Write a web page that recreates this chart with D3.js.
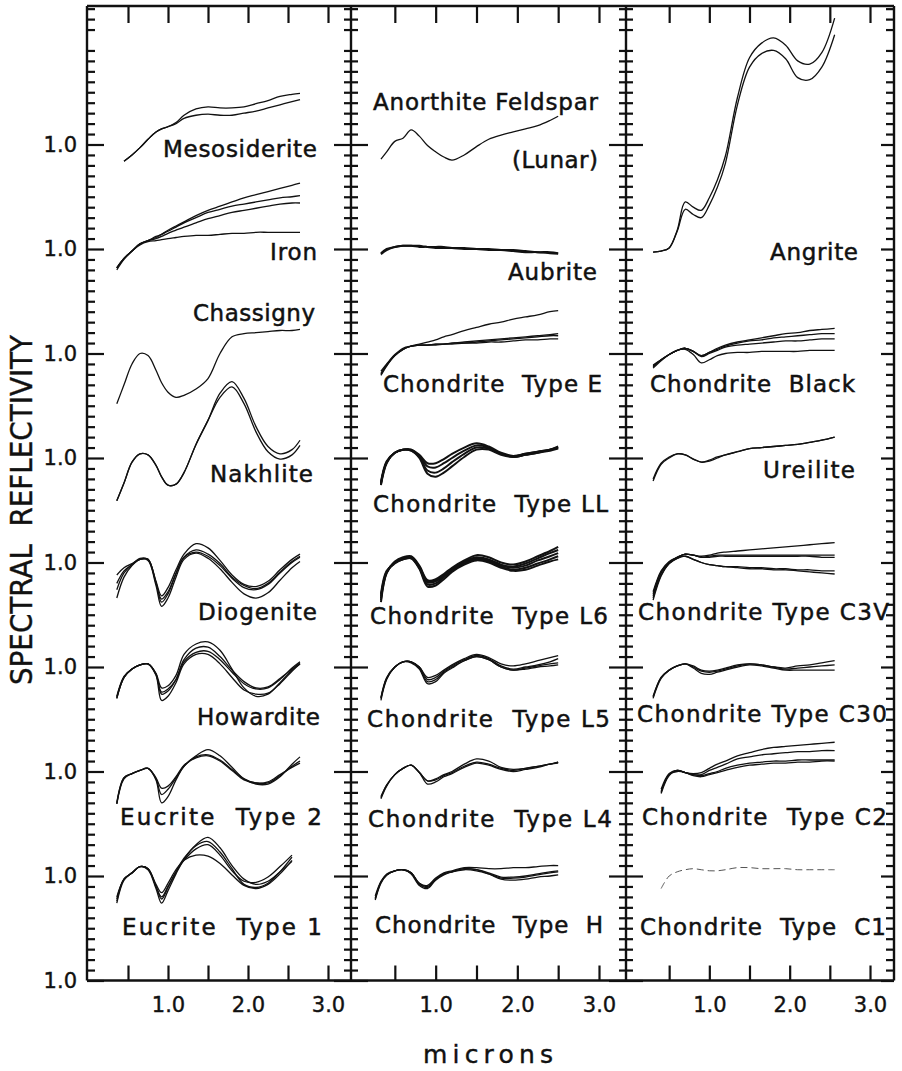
<!DOCTYPE html>
<html>
<head>
<meta charset="utf-8">
<script src="https://cdn.jsdelivr.net/npm/d3@7"></script>
<style>
  body { margin: 0; background: #fff; }
  svg { display: block; font-family: 'DejaVu Sans', sans-serif; }
  text { white-space: pre; fill: #111; }
</style>
</head>
<body>
<svg id="chart"></svg>
<script>
// wavelength grid (microns) for each column
const leftMicrons = [0.36, 0.45, 0.55, 0.65, 0.75, 0.85, 0.92, 1.0, 1.1, 1.2, 1.35, 1.5, 1.65, 1.8, 1.95, 2.1, 2.25, 2.4, 2.55, 2.65]
const middleMicrons = [0.26, 0.33, 0.4, 0.5, 0.6, 0.7, 0.8, 0.9, 1.0, 1.1, 1.2, 1.35, 1.5, 1.65, 1.8, 1.95, 2.1, 2.25, 2.4, 2.5]
const rightMicrons = [0.3, 0.4, 0.5, 0.6, 0.7, 0.8, 0.9, 1.0, 1.1, 1.2, 1.35, 1.5, 1.65, 1.8, 1.95, 2.1, 2.25, 2.4, 2.56]

// labels, top to bottom
const leftNames = ['Mesosiderite', 'Iron', 'Chassigny', 'Nakhlite', 'Diogenite', 'Howardite', 'Eucrite  Type 2', 'Eucrite  Type 1']
const middleNames = ['Anorthite Feldspar', '(Lunar)', 'Aubrite', 'Chondrite  Type E', 'Chondrite  Type LL', 'Chondrite  Type L6', 'Chondrite  Type L5', 'Chondrite  Type L4', 'Chondrite  Type  H']
const rightNames = ['Angrite', 'Chondrite  Black', 'Ureilite', 'Chondrite Type C3V', 'Chondrite Type C30', 'Chondrite  Type C2', 'Chondrite  Type  C1']

// relative reflectance (1.0 at 0.56 um), one list of traces per row
const leftSpectra = [
  [ // Mesosiderite
    [null, 0.84, 0.90, 0.97, 1.05, 1.12, 1.15, 1.17, 1.21, 1.28, 1.34, 1.36, 1.35, 1.35, 1.36, 1.39, 1.42, 1.46, 1.48, 1.49],
    [null, 0.84, 0.90, 0.97, 1.05, 1.12, 1.15, 1.17, 1.20, 1.25, 1.28, 1.29, 1.28, 1.28, 1.30, 1.32, 1.35, 1.38, 1.41, 1.43]
  ],
  [ // Iron
    [0.82, 0.91, 0.98, 1.05, 1.08, 1.12, 1.14, 1.18, 1.22, 1.26, 1.32, 1.37, 1.41, 1.45, 1.49, 1.52, 1.55, 1.58, 1.61, 1.63],
    [0.82, 0.91, 0.98, 1.05, 1.08, 1.11, 1.14, 1.17, 1.21, 1.25, 1.30, 1.35, 1.38, 1.41, 1.43, 1.45, 1.47, 1.49, 1.50, 1.51],
    [0.82, 0.91, 0.98, 1.05, 1.08, 1.10, 1.12, 1.15, 1.18, 1.21, 1.25, 1.29, 1.32, 1.35, 1.37, 1.39, 1.41, 1.43, 1.44, 1.44],
    [0.80, 0.90, 0.98, 1.04, 1.07, 1.08, 1.09, 1.10, 1.11, 1.12, 1.13, 1.13, 1.14, 1.15, 1.15, 1.16, 1.16, 1.16, 1.16, 1.16]
  ],
  [ // Chassigny
    [0.52, 0.70, 0.90, 1.00, 0.98, 0.84, 0.72, 0.63, 0.58, 0.60, 0.66, 0.76, 1.00, 1.16, 1.19, 1.20, 1.21, 1.22, 1.22, 1.23]
  ],
  [ // Nakhlite
    [0.59, 0.76, 0.96, 1.04, 1.03, 0.93, 0.82, 0.74, 0.75, 0.86, 1.13, 1.36, 1.62, 1.73, 1.57, 1.30, 1.11, 1.04, 1.08, 1.17],
    [0.59, 0.76, 0.96, 1.04, 1.03, 0.93, 0.82, 0.74, 0.75, 0.86, 1.13, 1.36, 1.58, 1.68, 1.52, 1.25, 1.06, 0.99, 1.03, 1.12]
  ],
  [ // Diogenite
    [0.66, 0.86, 0.97, 1.03, 1.03, 0.80, 0.65, 0.72, 0.90, 1.05, 1.10, 1.06, 0.97, 0.85, 0.76, 0.74, 0.79, 0.90, 1.00, 1.05],
    [0.80, 0.92, 0.98, 1.03, 1.02, 0.78, 0.58, 0.66, 0.86, 1.03, 1.09, 1.04, 0.94, 0.81, 0.70, 0.66, 0.71, 0.83, 0.95, 1.01],
    [0.74, 0.90, 0.98, 1.04, 1.03, 0.82, 0.68, 0.76, 0.93, 1.08, 1.18, 1.14, 1.02, 0.88, 0.79, 0.77, 0.82, 0.93, 1.03, 1.08],
    [0.88, 0.95, 0.99, 1.03, 1.03, 0.81, 0.62, 0.70, 0.89, 1.05, 1.12, 1.08, 0.99, 0.86, 0.78, 0.75, 0.80, 0.91, 1.01, 1.06]
  ],
  [ // Howardite
    [0.70, 0.90, 0.98, 1.02, 1.03, 0.93, 0.76, 0.79, 0.88, 1.05, 1.14, 1.15, 1.07, 0.95, 0.84, 0.79, 0.80, 0.88, 0.99, 1.05],
    [0.72, 0.91, 0.98, 1.02, 1.03, 0.92, 0.68, 0.72, 0.85, 1.03, 1.12, 1.12, 1.03, 0.90, 0.78, 0.74, 0.75, 0.84, 0.96, 1.03],
    [0.70, 0.90, 0.98, 1.02, 1.03, 0.94, 0.80, 0.82, 0.92, 1.12, 1.22, 1.24, 1.16, 0.98, 0.80, 0.72, 0.74, 0.85, 0.97, 1.03],
    [0.71, 0.90, 0.98, 1.02, 1.03, 0.93, 0.74, 0.77, 0.88, 1.07, 1.18, 1.19, 1.10, 0.97, 0.86, 0.80, 0.81, 0.89, 0.98, 1.04]
  ],
  [ // Eucrite Type 2
    [0.69, 0.94, 0.98, 1.01, 1.03, 0.93, 0.78, 0.83, 0.94, 1.05, 1.14, 1.16, 1.11, 1.02, 0.93, 0.89, 0.89, 0.96, 1.05, 1.10],
    [0.69, 0.93, 0.98, 1.01, 1.03, 0.92, 0.70, 0.76, 0.92, 1.05, 1.15, 1.21, 1.15, 1.04, 0.93, 0.88, 0.88, 0.95, 1.07, 1.14],
    [0.70, 0.94, 0.98, 1.01, 1.03, 0.94, 0.84, 0.86, 0.95, 1.06, 1.13, 1.15, 1.10, 1.01, 0.92, 0.89, 0.90, 0.97, 1.04, 1.08]
  ],
  [ // Eucrite Type 1
    [0.78, 0.97, 1.03, 1.09, 1.07, 0.90, 0.80, 0.90, 1.04, 1.15, 1.26, 1.30, 1.20, 1.05, 0.95, 0.94, 0.99, 1.09, 1.20, null],
    [0.74, 0.96, 1.03, 1.09, 1.06, 0.88, 0.74, 0.86, 1.02, 1.16, 1.30, 1.37, 1.27, 1.10, 0.97, 0.92, 0.95, 1.04, 1.14, null],
    [0.80, 0.97, 1.03, 1.09, 1.07, 0.92, 0.84, 0.93, 1.06, 1.15, 1.20, 1.19, 1.12, 1.01, 0.91, 0.88, 0.92, 1.02, 1.15, null],
    [0.76, 0.97, 1.03, 1.09, 1.07, 0.90, 0.78, 0.89, 1.04, 1.17, 1.29, 1.33, 1.23, 1.07, 0.92, 0.89, 0.93, 1.04, 1.18, null]
  ]
]

const middleSpectra = [
  [ // Anorthite Feldspar (Lunar)
    [null, 0.86, 0.93, 1.03, 1.06, 1.14, 1.08, 0.99, 0.93, 0.88, 0.85, 0.90, 0.98, 1.05, 1.09, 1.12, 1.15, 1.18, 1.23, 1.27]
  ],
  [ // Aubrite
    [null, 0.96, 1.00, 1.02, 1.03, 1.03, 1.03, 1.02, 1.02, 1.02, 1.01, 1.01, 1.00, 1.00, 0.99, 0.99, 0.98, 0.97, 0.97, 0.96],
    [null, 0.95, 0.99, 1.02, 1.03, 1.03, 1.02, 1.02, 1.01, 1.01, 1.01, 1.00, 1.00, 0.99, 0.99, 0.98, 0.97, 0.97, 0.96, 0.955]
  ],
  [ // Chondrite Type E
    [null, 0.81, 0.89, 0.98, 1.04, 1.07, 1.09, 1.11, 1.13, 1.16, 1.18, 1.22, 1.25, 1.28, 1.30, 1.33, 1.35, 1.37, 1.40, 1.41],
    [null, 0.79, 0.88, 0.98, 1.04, 1.07, 1.08, 1.08, 1.09, 1.09, 1.10, 1.10, 1.11, 1.12, 1.13, 1.14, 1.15, 1.16, 1.17, 1.17],
    [null, 0.83, 0.90, 0.99, 1.05, 1.07, 1.08, 1.08, 1.08, 1.09, 1.09, 1.10, 1.10, 1.11, 1.11, 1.12, 1.13, 1.13, 1.14, 1.14],
    [null, 0.80, 0.89, 0.98, 1.04, 1.07, 1.08, 1.08, 1.09, 1.09, 1.10, 1.11, 1.12, 1.13, 1.14, 1.15, 1.16, 1.17, 1.18, 1.19]
  ],
  [ // Chondrite Type LL
    [null, 0.76, 0.96, 1.05, 1.08, 1.08, 1.03, 0.95, 0.95, 0.99, 1.04, 1.10, 1.14, 1.11, 1.05, 1.02, 1.04, 1.06, 1.08, 1.10],
    [null, 0.77, 0.97, 1.05, 1.08, 1.08, 1.02, 0.92, 0.91, 0.95, 1.00, 1.07, 1.12, 1.10, 1.04, 1.02, 1.04, 1.06, 1.08, 1.11],
    [null, 0.75, 0.96, 1.05, 1.08, 1.07, 1.01, 0.88, 0.86, 0.90, 0.96, 1.04, 1.10, 1.09, 1.04, 1.01, 1.03, 1.05, 1.07, 1.09],
    [null, 0.74, 0.95, 1.05, 1.08, 1.07, 1.00, 0.85, 0.82, 0.86, 0.92, 1.01, 1.08, 1.08, 1.03, 1.01, 1.03, 1.05, 1.08, 1.10]
  ],
  [ // Chondrite Type L6
    [null, 0.62, 0.90, 1.01, 1.05, 1.06, 0.97, 0.83, 0.84, 0.89, 0.95, 1.02, 1.07, 1.05, 1.00, 0.98, 1.01, 1.06, 1.11, 1.15],
    [null, 0.64, 0.90, 1.00, 1.04, 1.05, 0.96, 0.82, 0.83, 0.88, 0.94, 1.01, 1.05, 1.03, 0.98, 0.96, 0.99, 1.04, 1.09, 1.12],
    [null, 0.66, 0.91, 1.00, 1.04, 1.05, 0.95, 0.81, 0.82, 0.87, 0.93, 1.00, 1.04, 1.02, 0.97, 0.95, 0.97, 1.02, 1.06, 1.09],
    [null, 0.68, 0.91, 1.00, 1.03, 1.04, 0.95, 0.79, 0.80, 0.86, 0.92, 0.99, 1.03, 1.01, 0.96, 0.93, 0.95, 0.99, 1.03, 1.06],
    [null, 0.70, 0.92, 0.99, 1.03, 1.04, 0.94, 0.77, 0.78, 0.84, 0.91, 0.98, 1.02, 1.00, 0.95, 0.92, 0.93, 0.97, 1.01, 1.03]
  ],
  [ // Chondrite Type L5
    [null, 0.68, 0.88, 1.00, 1.05, 1.05, 1.00, 0.88, 0.90, 0.96, 1.01, 1.07, 1.11, 1.08, 1.01, 0.98, 1.00, 1.02, 1.05, 1.08],
    [null, 0.70, 0.89, 1.00, 1.05, 1.05, 0.99, 0.86, 0.88, 0.95, 1.00, 1.06, 1.10, 1.07, 1.00, 0.97, 0.99, 1.01, 1.03, 1.04],
    [null, 0.71, 0.90, 1.00, 1.05, 1.04, 0.98, 0.84, 0.86, 0.94, 0.99, 1.06, 1.10, 1.07, 1.00, 0.97, 0.98, 1.00, 1.01, 1.02],
    [null, 0.70, 0.89, 1.00, 1.05, 1.05, 1.00, 0.90, 0.92, 0.97, 1.02, 1.08, 1.12, 1.09, 1.03, 1.01, 1.03, 1.06, 1.09, 1.11]
  ],
  [ // Chondrite Type L4
    [null, 0.74, 0.86, 0.97, 1.03, 1.06, 0.99, 0.91, 0.92, 0.96, 0.99, 1.05, 1.09, 1.07, 1.03, 1.01, 1.03, 1.05, 1.07, 1.09],
    [null, 0.76, 0.87, 0.97, 1.03, 1.06, 0.99, 0.88, 0.90, 0.95, 0.98, 1.04, 1.08, 1.06, 1.02, 1.00, 1.02, 1.04, 1.07, 1.08],
    [null, 0.75, 0.87, 0.97, 1.03, 1.06, 0.99, 0.91, 0.93, 0.97, 1.00, 1.07, 1.12, 1.10, 1.04, 1.02, 1.03, 1.05, 1.07, 1.09]
  ],
  [ // Chondrite Type H
    [0.79, 0.94, 1.01, 1.05, 1.06, 1.03, 0.93, 0.90, 0.97, 1.02, 1.04, 1.07, 1.06, 1.03, 0.99, 0.99, 1.00, 1.02, 1.04, 1.05],
    [0.81, 0.95, 1.02, 1.05, 1.06, 1.02, 0.91, 0.88, 0.96, 1.01, 1.04, 1.06, 1.05, 1.02, 0.98, 0.98, 0.99, 1.01, 1.03, 1.04],
    [0.77, 0.93, 1.01, 1.05, 1.06, 1.03, 0.93, 0.91, 0.98, 1.03, 1.05, 1.08, 1.08, 1.07, 1.07, 1.08, 1.08, 1.09, 1.10, 1.10],
    [0.78, 0.94, 1.01, 1.05, 1.06, 1.03, 0.92, 0.89, 0.97, 1.02, 1.04, 1.07, 1.06, 1.02, 0.97, 0.96, 0.97, 0.99, 1.00, 1.01]
  ]
]

const rightSpectra = [
  [], // nothing in the top row
  [ // Angrite
    [0.97, 0.98, 1.01, 1.18, 1.45, 1.40, 1.37, 1.49, 1.66, 1.89, 2.45, 2.83, 2.97, 3.02, 2.95, 2.80, 2.77, 2.88, 3.21],
    [0.97, 0.98, 1.01, 1.17, 1.38, 1.33, 1.30, 1.42, 1.59, 1.82, 2.38, 2.74, 2.87, 2.90, 2.82, 2.64, 2.62, 2.74, 3.05]
  ],
  [ // Chondrite Black
    [0.87, 0.94, 0.99, 1.03, 1.05, 1.02, 0.98, 1.01, 1.05, 1.08, 1.11, 1.13, 1.15, 1.17, 1.19, 1.20, 1.22, 1.23, 1.24],
    [0.88, 0.94, 0.99, 1.03, 1.05, 1.02, 0.98, 1.01, 1.04, 1.07, 1.10, 1.12, 1.13, 1.15, 1.16, 1.17, 1.18, 1.19, 1.19],
    [0.86, 0.93, 0.99, 1.03, 1.05, 1.02, 0.97, 1.00, 1.03, 1.06, 1.08, 1.09, 1.10, 1.11, 1.12, 1.12, 1.13, 1.14, 1.14],
    [0.89, 0.94, 0.99, 1.03, 1.04, 0.99, 0.91, 0.94, 0.98, 1.00, 1.01, 1.01, 1.02, 1.02, 1.02, 1.02, 1.03, 1.03, 1.03]
  ],
  [ // Ureilite
    [0.78, 0.94, 1.00, 1.04, 1.03, 0.99, 0.96, 0.98, 1.01, 1.03, 1.06, 1.09, 1.10, 1.11, 1.12, 1.13, 1.15, 1.17, 1.20],
    [0.80, 0.95, 1.01, 1.04, 1.03, 0.99, 0.96, 0.97, 1.00, 1.03, 1.06, 1.09, 1.10, 1.11, 1.12, 1.13, 1.15, 1.17, 1.20]
  ],
  [ // Chondrite Type C3V
    [0.68, 0.90, 1.00, 1.05, 1.08, 1.07, 1.06, 1.07, 1.09, 1.10, 1.11, 1.12, 1.13, 1.14, 1.15, 1.16, 1.17, 1.18, 1.19],
    [0.72, 0.92, 1.01, 1.05, 1.08, 1.07, 1.05, 1.06, 1.07, 1.07, 1.07, 1.07, 1.07, 1.07, 1.07, 1.07, 1.07, 1.07, 1.07],
    [0.70, 0.91, 1.00, 1.05, 1.08, 1.07, 1.05, 1.05, 1.06, 1.06, 1.06, 1.06, 1.06, 1.06, 1.06, 1.06, 1.06, 1.05, 1.05],
    [0.66, 0.88, 0.99, 1.04, 1.06, 1.03, 1.00, 0.98, 0.97, 0.96, 0.96, 0.95, 0.95, 0.94, 0.94, 0.93, 0.93, 0.92, 0.92],
    [0.64, 0.87, 0.99, 1.04, 1.06, 1.03, 1.00, 0.98, 0.97, 0.96, 0.95, 0.94, 0.94, 0.93, 0.93, 0.92, 0.91, 0.90, 0.89]
  ],
  [ // Chondrite Type C30
    [0.70, 0.89, 0.97, 1.01, 1.03, 1.01, 0.97, 0.96, 0.97, 0.99, 1.02, 1.03, 1.02, 1.00, 0.99, 1.01, 1.02, 1.04, 1.06],
    [0.72, 0.90, 0.97, 1.01, 1.03, 1.00, 0.96, 0.95, 0.96, 0.98, 1.01, 1.03, 1.02, 1.00, 0.98, 0.99, 1.00, 1.01, 1.02],
    [0.71, 0.90, 0.97, 1.01, 1.03, 0.99, 0.94, 0.93, 0.95, 0.97, 1.00, 1.02, 1.01, 0.99, 0.97, 0.97, 0.97, 0.97, 0.97]
  ],
  [ // Chondrite Type C2
    [null, 0.83, 0.98, 1.01, 0.99, 0.98, 0.99, 1.03, 1.07, 1.10, 1.15, 1.18, 1.21, 1.23, 1.24, 1.25, 1.26, 1.27, 1.28],
    [null, 0.81, 0.97, 1.01, 0.99, 0.97, 0.97, 1.01, 1.04, 1.07, 1.12, 1.14, 1.16, 1.17, 1.18, 1.19, 1.19, 1.20, 1.20],
    [null, 0.79, 0.96, 1.01, 0.99, 0.97, 0.96, 0.98, 1.00, 1.03, 1.06, 1.08, 1.09, 1.10, 1.10, 1.11, 1.11, 1.11, 1.11],
    [null, 0.80, 0.97, 1.00, 0.99, 0.96, 0.95, 0.97, 0.99, 1.01, 1.04, 1.06, 1.07, 1.08, 1.08, 1.09, 1.09, 1.10, 1.10]
  ],
  [ // Chondrite Type C1 (dashed)
    [null, 0.88, 1.00, 1.04, 1.06, 1.07, 1.06, 1.05, 1.05, 1.06, 1.08, 1.08, 1.07, 1.07, 1.07, 1.06, 1.06, 1.06, 1.06]
  ]
]

const xTicks = [0.5, 1.0, 1.5, 2.0, 2.5, 3.0]
const xLabels = [1.0, 2.0, 3.0]
const yMajor = [1, 2, 3, 4, 5, 6, 7, 8, 9]

// label placement: [left x, baseline y, width] - kept apart from the data
const leftLabelPos = [[163, 157, 154], [270, 260, 47], [193, 321, 122], [210, 482, 103], [198, 620, 119], [197, 725, 123], [120, 825, 202], [122, 935, 200]]
const middleLabelPos = [[373, 110, 225], [512, 168, 86], [508, 280, 89], [383, 392, 219], [373, 512, 235], [370, 624, 238], [367, 727, 243], [368, 827, 244], [375, 933, 228]]
const rightLabelPos = [[770, 260, 88], [650, 392, 205], [763, 478, 92], [638, 620, 251], [637, 722, 250], [642, 825, 245], [640, 935, 246]]

let width = 902
let height = 1071
let frameTop = 6
let frameBottom = 980.5
let frames = [87, 351, 626, 894]

let svg = d3.select('#chart')
    .attr('width', width)
    .attr('height', height)

// each unit of offset is one row; 1.0 of the bottom axis sits on the frame
let yScale = d3.scaleLinear().domain([1, 10]).range([980.5, 40])

let xScales = [
    d3.scaleLinear().domain([0, 3]).range([88, 328]),
    d3.scaleLinear().domain([0, 3]).range([354, 599]),
    d3.scaleLinear().domain([0, 3]).range([629, 870])
]

const minorTicks = d3.range(10, 104).filter(d => d % 10 != 0).map(d => d / 10)

const tickAxis = (axis, x, values, size) => {
    svg.append('g')
        .attr('class', 'ticks')
        .attr('transform', `translate(${x}, 0)`)
        .call(axis(yScale).tickValues(values).tickSize(size).tickFormat(''))
        .call(g => g.select('.domain').remove())
}

const drawFrame = () => {
    // outer box and the two dividers
    svg.append('line').attr('x1', frames[0]).attr('x2', frames[3]).attr('y1', frameTop).attr('y2', frameTop)
    svg.append('line').attr('x1', frames[0]).attr('x2', frames[3]).attr('y1', frameBottom).attr('y2', frameBottom)
    frames.forEach(x => {
        svg.append('line').attr('x1', x).attr('x2', x).attr('y1', frameTop).attr('y2', frameBottom)
    })
    svg.selectAll('line').attr('stroke', '#111').attr('stroke-width', 2.4)
}

const drawYAxes = () => {
    // left edge: inward ticks, labels outside
    tickAxis(d3.axisRight, frames[0], minorTicks, 8)
    tickAxis(d3.axisRight, frames[0], yMajor, 17)
    // dividers: ticks cross the line
    ;[frames[1], frames[2]].forEach(x => {
        tickAxis(d3.axisRight, x, minorTicks, 7)
        tickAxis(d3.axisLeft, x, minorTicks, 7)
        tickAxis(d3.axisRight, x, yMajor, 17)
        tickAxis(d3.axisLeft, x, yMajor, 17)
    })
    // right edge: inward
    tickAxis(d3.axisLeft, frames[3], minorTicks, 8)
    tickAxis(d3.axisLeft, frames[3], yMajor, 13)

    svg.append('g')
        .attr('transform', `translate(${frames[0]}, 0)`)
        .call(d3.axisLeft(yScale).tickValues(yMajor).tickSize(0).tickPadding(10).tickFormat(() => '1.0'))
        .call(g => g.select('.domain').remove())
        .selectAll('text')
        .attr('font-size', 21)
        .attr('font-family', 'DejaVu Sans')
        .attr('fill', '#111')
        .attr('stroke', '#111')
        .attr('stroke-width', 0.4)

    svg.selectAll('.ticks line').attr('stroke', '#111').attr('stroke-width', 2.2)
}

const drawXAxes = () => {
    xScales.forEach(xScale => {
        svg.append('g')
            .attr('class', 'xticks')
            .attr('transform', `translate(0, ${frameTop})`)
            .call(d3.axisBottom(xScale).tickValues(xTicks).tickSize(17).tickFormat(''))
            .call(g => g.select('.domain').remove())
        svg.append('g')
            .attr('class', 'xticks')
            .attr('transform', `translate(0, ${frameBottom})`)
            .call(d3.axisTop(xScale).tickValues(xTicks).tickSize(15).tickFormat(''))
            .call(g => g.select('.domain').remove())
        svg.append('g')
            .attr('transform', `translate(0, ${frameBottom})`)
            .call(d3.axisBottom(xScale).tickValues(xLabels).tickSize(0).tickPadding(17).tickFormat(d3.format('.1f')))
            .call(g => g.select('.domain').remove())
            .selectAll('text')
            .attr('font-size', 21)
            .attr('font-family', 'DejaVu Sans')
            .attr('fill', '#111')
            .attr('stroke', '#111')
            .attr('stroke-width', 0.4)
    })
    svg.selectAll('.xticks line').attr('stroke', '#111').attr('stroke-width', 2.2)
}

const drawSpectra = (spectra, microns, xScale, heavyRows) => {
    spectra.forEach((traces, row) => {
        let offset = 8 - row
        let path = d3.line()
            .defined(p => p != null)
            .x(p => xScale(p[0]))
            .y(p => yScale(p[1] + offset))
            .curve(d3.curveCatmullRom.alpha(0.5))
        traces.forEach(trace => {
            let pts = trace.map((d, i) => d == null ? null : [microns[i], d])
            svg.append('path')
                .attr('class', 'spectrum')
                .attr('d', path(pts))
                .attr('fill', 'none')
                .attr('stroke', '#111')
                .attr('stroke-width', heavyRows.includes(row) ? 2 : 1.3)
        })
    })
}

const drawLabels = (names, positions) => {
    svg.selectAll(null)
        .data(names)
        .enter()
        .append('text')
        .attr('x', (d, i) => positions[i][0])
        .attr('y', (d, i) => positions[i][1])
        .attr('textLength', (d, i) => positions[i][2])
        .attr('lengthAdjust', 'spacing')
        .attr('font-size', 23)
        .attr('stroke', '#111')
        .attr('stroke-width', 0.5)
        .text(d => d)
}

drawFrame()
drawYAxes()
drawXAxes()
drawSpectra(leftSpectra, leftMicrons, xScales[0], [])
// the L6 and LL bands are heavier in the original
drawSpectra(middleSpectra, middleMicrons, xScales[1], [1, 3, 4])
drawSpectra(rightSpectra, rightMicrons, xScales[2], [])

// the C1 trace is a faint broken line
svg.selectAll('.spectrum').filter((d, i, nodes) => i == nodes.length - 1)
    .attr('stroke', '#555')
    .attr('stroke-width', 1)
    .attr('stroke-dasharray', '7,4')

drawLabels(leftNames, leftLabelPos)
drawLabels(middleNames, middleLabelPos)
drawLabels(rightNames, rightLabelPos)

svg.append('text')
    .attr('transform', 'translate(32, 510) rotate(-90)')
    .attr('text-anchor', 'middle')
    .attr('font-size', 30)
    .attr('textLength', 350)
    .attr('lengthAdjust', 'spacingAndGlyphs')
    .attr('stroke', '#111')
    .attr('stroke-width', 0.4)
    .text('SPECTRAL  REFLECTIVITY')

svg.append('text')
    .attr('x', 488)
    .attr('y', 1063)
    .attr('text-anchor', 'middle')
    .attr('font-size', 25)
    .attr('textLength', 130)
    .attr('lengthAdjust', 'spacing')
    .attr('stroke', '#111')
    .attr('stroke-width', 0.4)
    .text('microns')
</script>
</body>
</html>
